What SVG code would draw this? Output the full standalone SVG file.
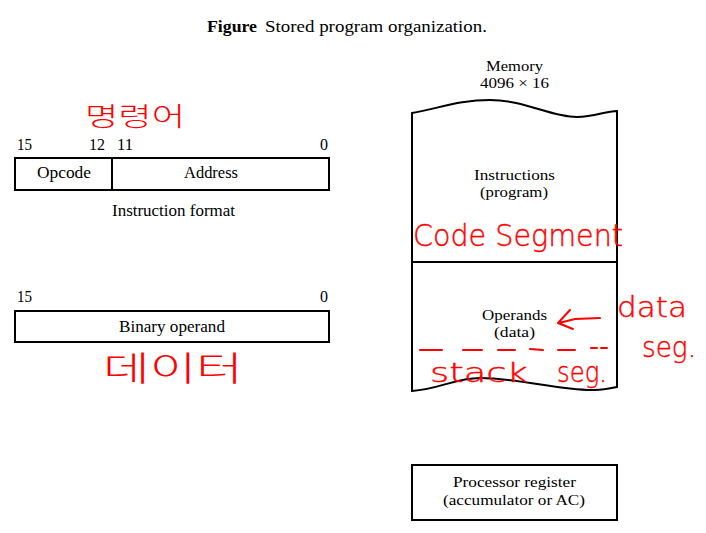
<svg xmlns="http://www.w3.org/2000/svg" width="706" height="533" viewBox="0 0 706 533">
<style>
.t{font-family:"Liberation Serif","Times New Roman",serif;font-size:17px;fill:#000}
.s{font-size:15px}
.box{fill:none;stroke:#000;stroke-width:2}
.hw{font-family:"DejaVu Sans","Noto Sans CJK KR",sans-serif;font-weight:200;fill:#f00;stroke:#f00;stroke-width:0.4}
.ko{font-family:"Noto Sans CJK KR",sans-serif;fill:#f00;font-weight:300}
.pen{fill:none;stroke:#f00;stroke-width:2;stroke-linecap:round;stroke-linejoin:round}
</style>
<rect width="706" height="533" fill="#fff"/>
<g id="title">
<text class="t" x="207" y="32" font-size="19" font-weight="bold" textLength="50" lengthAdjust="spacingAndGlyphs">Figure</text>
<text class="t" x="265" y="32" font-size="19" textLength="222" lengthAdjust="spacingAndGlyphs">Stored program organization.</text>
</g>
<g id="instruction-format">
<text class="t" x="17" y="150" textLength="15" lengthAdjust="spacingAndGlyphs">15</text>
<text class="t" x="89" y="150" textLength="16" lengthAdjust="spacingAndGlyphs">12</text>
<text class="t" x="117" y="150" textLength="16" lengthAdjust="spacingAndGlyphs">11</text>
<text class="t" x="320" y="150" textLength="8" lengthAdjust="spacingAndGlyphs">0</text>
<rect class="box" x="15" y="158" width="314" height="32"/>
<line x1="112" y1="158" x2="112" y2="190" stroke="#000" stroke-width="2"/>
<text class="t" x="37" y="178" textLength="54" lengthAdjust="spacingAndGlyphs">Opcode</text>
<text class="t" x="184" y="178" textLength="54" lengthAdjust="spacingAndGlyphs">Address</text>
<text class="t" x="112" y="216" textLength="123" lengthAdjust="spacingAndGlyphs">Instruction format</text>
<text class="ko" x="85" y="126" font-size="26" textLength="100" lengthAdjust="spacingAndGlyphs">명령어</text>
</g>
<g id="binary-operand">
<text class="t" x="17" y="302" textLength="15" lengthAdjust="spacingAndGlyphs">15</text>
<text class="t" x="320" y="302" textLength="8" lengthAdjust="spacingAndGlyphs">0</text>
<rect class="box" x="15" y="311" width="314" height="31"/>
<text class="t" x="119" y="332" textLength="106" lengthAdjust="spacingAndGlyphs">Binary operand</text>
<text class="ko" x="103" y="381" font-size="34" textLength="140" lengthAdjust="spacingAndGlyphs">데이터</text>
</g>
<g id="memory">
<text class="t s" x="486" y="71" textLength="57" lengthAdjust="spacingAndGlyphs">Memory</text>
<text class="t s" x="480" y="88" textLength="69" lengthAdjust="spacingAndGlyphs">4096 × 16</text>
<path class="box" d="M412,113 C440,108 460,100 490,100 C525,100 550,117 577,117 C595,117 605,111 617,111 L617,387 C612,388 605,390 595,390 C560,391 520,378 480,378 C455,378 440,389 412,391 Z"/>
<line x1="412" y1="262" x2="617" y2="262" stroke="#000" stroke-width="2"/>
<text class="t s" x="474" y="180" textLength="81" lengthAdjust="spacingAndGlyphs">Instructions</text>
<text class="t s" x="480" y="197" textLength="68" lengthAdjust="spacingAndGlyphs">(program)</text>
<text class="t s" x="482" y="320" textLength="65" lengthAdjust="spacingAndGlyphs">Operands</text>
<text class="t s" x="494" y="337" textLength="41" lengthAdjust="spacingAndGlyphs">(data)</text>
<text class="hw" x="413" y="246" font-size="30" textLength="210" lengthAdjust="spacingAndGlyphs">Code Segment</text>
<text class="hw" x="617" y="317" font-size="28" textLength="70" lengthAdjust="spacingAndGlyphs">data</text>
<text class="hw" x="642" y="357" font-size="28" textLength="54" lengthAdjust="spacingAndGlyphs">seg.</text>
<path class="pen" d="M420,350 L442,350 M463,350 L482,350 M498,350 L515,350 M530,349 L543,350 M558,350 L575,350 M591,348 L597,348 M601,348 L607,348"/>
<text class="hw" x="430" y="382" font-size="26" textLength="98" lengthAdjust="spacingAndGlyphs">stack</text>
<text class="hw" x="557" y="382" font-size="28" textLength="50" lengthAdjust="spacingAndGlyphs">seg.</text>
</g>
<g id="processor-register">
<rect class="box" x="412" y="465" width="205" height="55"/>
<text class="t s" x="453" y="487" textLength="123" lengthAdjust="spacingAndGlyphs">Processor register</text>
<text class="t s" x="443" y="505" textLength="142" lengthAdjust="spacingAndGlyphs">(accumulator or AC)</text>
</g>
<g id="connectors">
<path class="pen" d="M600,318 L575,319 L559,323 M570,310 L558,323 L573,329"/>
</g>
</svg>
